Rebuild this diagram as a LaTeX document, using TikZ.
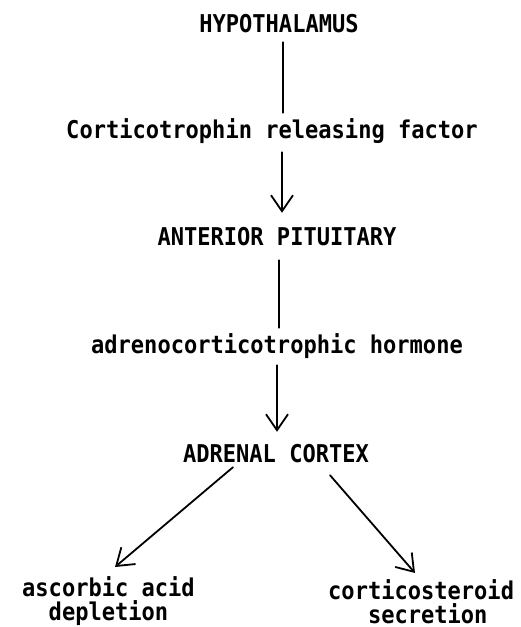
\documentclass[tikz,border=0pt]{standalone}
\usepackage{fontspec}
\newfontfamily\twfont[FakeStretch=0.9]{DejaVu Sans Mono Bold}
\usetikzlibrary{arrows.meta,calc}
\tikzset{
  lbl/.style={inner sep=0pt, anchor=base, text height=18pt, text depth=5pt,
    font=\twfont\fontsize{24.5pt}{24.5pt}\selectfont},
  endlbl/.style={inner sep=0pt, anchor=north west, align=left,
    font=\twfont\fontsize{24.5pt}{24.5pt}\selectfont},
  conn/.style={line width=1.8pt, line cap=round},
  arr/.style={conn, -{Straight Barb[length=16pt,width=22pt,line width=1.8pt]}}
}
\begin{document}
\begin{tikzpicture}[x=1pt,y=-1pt]
\useasboundingbox (0,0) rectangle (521,627);
\node[lbl] (hyp)  at (279,32)  {HYPOTHALAMUS};
\node[lbl] (crf)  at (272,138) {Corticotrophin releasing factor};
\node[lbl] (ant)  at (277,245) {ANTERIOR PITUITARY};
\node[lbl] (acth) at (277,353) {adrenocorticotrophic hormone};
\node[lbl] (adr)  at (276,462) {ADRENAL CORTEX};
\node[endlbl] (asc) at (22,576) {ascorbic acid\\\phantom{xx}depletion};
\node[endlbl] (cs)  at (328,579) {corticosteroid\\\phantom{xxx}secretion};

\draw[conn] ($(hyp.south)+(4,5)$) -- ($(crf.north)+(11,-7)$);
\draw[arr]  ($(crf.south)+(10,9)$) -- ($(ant.north)+(5,-14)$);
\draw[conn] ($(ant.south)+(2,10)$) -- ($(acth.north)+(2,-7)$);
\draw[arr]  ($(acth.south)+(0,7)$) -- ($(adr.north)+(1,-12)$);
\draw[arr]  ($(adr.south)+(-43,0)$) -- ($(asc.north west)+(93,-9)$);
\draw[arr]  ($(adr.south)+(54,8)$) -- ($(cs.north west)+(87,-6)$);
\end{tikzpicture}
\end{document}
